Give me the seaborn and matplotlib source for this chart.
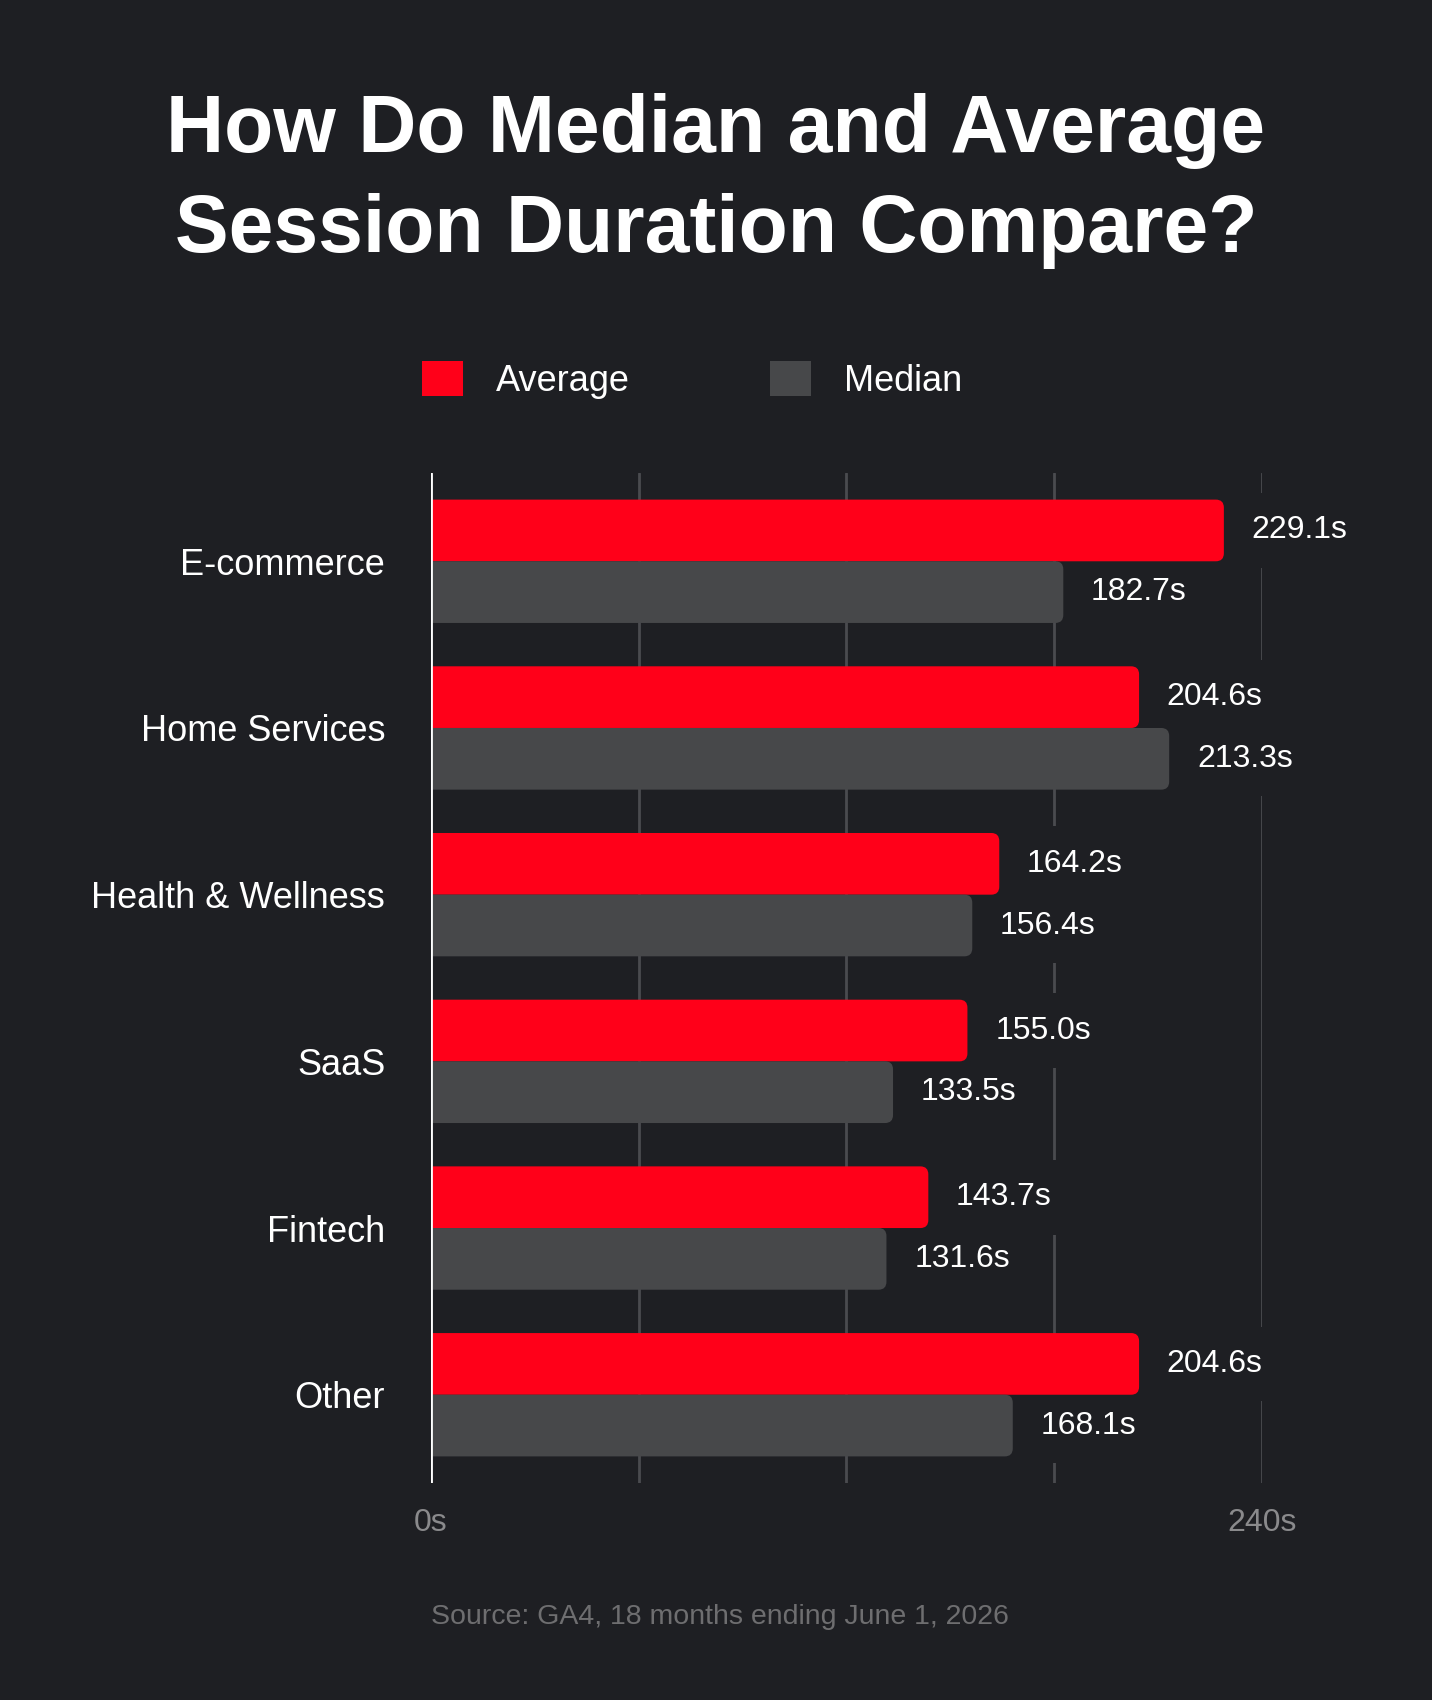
import pandas as pd
import numpy as np
import matplotlib.pyplot as plt
from matplotlib.patches import FancyBboxPatch
import seaborn as sns

# 数据
categories = ['E-commerce', 'Home Services', 'Health & Wellness', 'SaaS', 'Fintech', 'Other']
average = [229.1, 204.6, 164.2, 155.0, 143.7, 204.6]
median = [182.7, 213.3, 156.4, 133.5, 131.6, 168.1]
series = ['Average', 'Median']
x_ticks = [0, 60, 120, 180, 240]
x_ticklabels = ['0s', '', '', '', '240s']

bg = '#1e1f23'
red = '#ff0019'
gray = '#47484a'

df = pd.DataFrame({
    'category': categories * 2,
    'series': ['Average'] * len(categories) + ['Median'] * len(categories),
    'value': average + median,
})

sns.set_theme(style='dark')
plt.rcParams['font.family'] = ['Liberation Sans', 'DejaVu Sans']

fig = plt.figure(figsize=(14.32, 17), dpi=100, facecolor=bg)
ax = fig.add_axes([0.301, 0.1276, 0.580, 0.5942])
ax.set_facecolor(bg)

sns.barplot(data=df, y='category', x='value', hue='series', order=categories,
            hue_order=series, palette=[red, gray], saturation=1, width=0.74, gap=0,
            orient='h', ax=ax, linewidth=0, zorder=3)

# 网格线
ax.set_xlim(0, 240)
ax.set_ylim(len(categories) - 0.47, -0.53)
ax.set_xticks(x_ticks)
ax.set_xticklabels(x_ticklabels, color='#8a8a8c', fontsize=23)
ax.tick_params(axis='x', length=0, pad=18)
ax.tick_params(axis='y', length=0, pad=33, labelsize=26, labelcolor='white')
ax.grid(axis='x', color='#4a4b4f', linewidth=2, zorder=0)
ax.grid(axis='y', visible=False)
for s in ax.spines.values():
    s.set_visible(False)
ax.axvline(0, color='white', linewidth=2, zorder=5)
ax.set_xlabel('')
ax.set_ylabel('')

# 圆角 + 数值标签
for cont in ax.containers:
    for bar in cont:
        w = bar.get_width()
        y0 = bar.get_y()
        h = bar.get_height()
        bar.set_visible(False)
        ax.add_patch(FancyBboxPatch((-3, y0), w + 3, h,
                                    boxstyle='round,pad=0,rounding_size=2.3',
                                    mutation_aspect=0.0209,
                                    facecolor=bar.get_facecolor(), edgecolor='none',
                                    zorder=3))
        ax.annotate(f'{w:.1f}s', (w, y0 + h / 2),
                    xytext=(20, 0), textcoords='offset points',
                    ha='left', va='center', color='white', fontsize=23,
                    zorder=2,
                    bbox=dict(boxstyle='square,pad=0.7', facecolor=bg, edgecolor='none'))

# 图例
handles, labels = ax.get_legend_handles_labels()
ax.legend_.remove()
fig.legend(handles, labels, loc='center left', bbox_to_anchor=(0.295, 0.7765),
           ncol=2, frameon=False, fontsize=26, labelcolor='white',
           handlelength=1.13, handleheight=1.13, handletextpad=0.9,
           columnspacing=3.9, borderaxespad=0, borderpad=0)

# 标题
fig.text(0.5, 1 - 131 / 1700, 'How Do Median and Average', ha='center', va='center',
         color='white', fontsize=58, fontweight='bold')
fig.text(0.5, 1 - 231 / 1700, 'Session Duration Compare?', ha='center', va='center',
         color='white', fontsize=58, fontweight='bold')

fig.text(431 / 1432, 1 - 1617 / 1700, 'Source: GA4, 18 months ending June 1, 2026',
         ha='left', va='center', color='#6e6e70', fontsize=20.5)

plt.savefig('out.png', dpi=100, facecolor=bg)
